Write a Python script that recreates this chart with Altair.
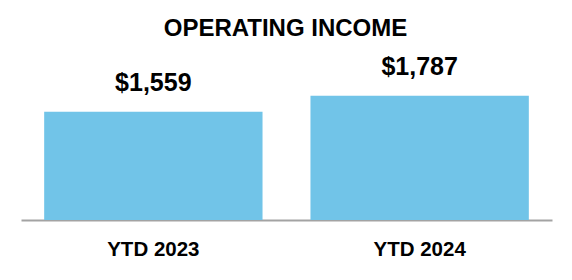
import altair as alt
import pandas as pd

categories = ["YTD 2023", "YTD 2024"]
values = [1559, 1787]
labels = ["$1,559", "$1,787"]

df = pd.DataFrame({"period": categories, "value": values, "label": labels})

FONT = "Arial, Liberation Sans, sans-serif"

x_enc = alt.X(
    "period:N",
    sort=categories,
    scale=alt.Scale(paddingInner=0.18, paddingOuter=0.087),
    axis=alt.Axis(
        title=None,
        labelAngle=0,
        ticks=False,
        tickSize=0,
        domainColor="#a3a3a3",
        domainWidth=2,
        labelFont=FONT,
        labelFontSize=20.5,
        labelFontWeight="bold",
        labelColor="#000000",
        labelPadding=19,
    ),
)
y_enc = alt.Y("value:Q", scale=alt.Scale(domain=[0, 2000], nice=False), axis=None)

bars = alt.Chart(df).mark_bar(color="#71C4E8").encode(x=x_enc, y=y_enc)
text = alt.Chart(df).mark_text(
    baseline="alphabetic", dy=-21, font=FONT, fontSize=25, fontWeight="bold", color="#000000"
).encode(x=x_enc, y=y_enc, text="label:N")

chart = (
    alt.layer(bars, text)
    .properties(
        width=531,
        height=139,
        autosize=alt.AutoSizeParams(type="none"),
        padding={"left": 21, "top": 81, "right": 20, "bottom": 60},
        title=alt.TitleParams(
            "OPERATING INCOME",
            font=FONT,
            fontSize=24,
            fontWeight="bold",
            color="#000000",
            baseline="alphabetic",
            offset=-5,
            anchor="middle",
            dx=-1,
        ),
    )
    .configure_view(stroke=None)
)

chart.save("out.html", embed_options={"renderer": "svg", "actions": False})
